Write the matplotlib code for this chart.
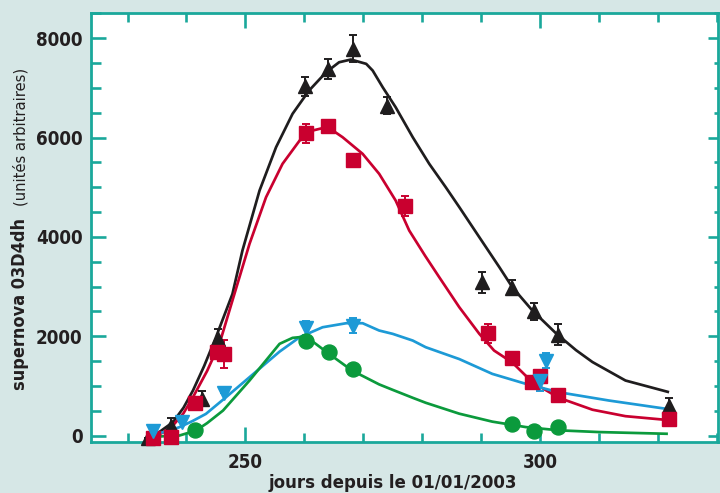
import matplotlib
matplotlib.use('Agg')
import matplotlib.pyplot as plt
from matplotlib.ticker import MultipleLocator, FixedLocator

# ---------------- data ----------------
days_black = [233.4, 237.4, 242.7, 245.3, 260.2, 264.1, 268.2, 274.1, 290.1, 295.2, 298.9, 303.1, 321.9]
flux_black = [-50, 200, 745, 1950, 7030, 7385, 7790, 6645, 3090, 2975, 2505, 2035, 585]
err_black = [0, 150, 150, 200, 200, 200, 270, 170, 210, 150, 170, 220, 170]

days_red = [234.3, 237.4, 241.4, 245.1, 246.3, 260.3, 264.1, 268.2, 277.1, 291.2, 295.3, 298.7, 300.0, 303.1, 321.9]
flux_red = [-50, -20, 650, 1690, 1645, 6090, 6225, 5550, 4620, 2060, 1555, 1075, 1195, 820, 335]
err_red = [0, 0, 0, 0, 280, 190, 0, 0, 200, 190, 0, 0, 0, 0, 0]

days_blue = [234.4, 239.3, 246.4, 260.3, 268.2, 301.0, 300.0]
flux_blue = [100, 270, 850, 2160, 2215, 1510, 1090]
err_blue = [0, 0, 0, 140, 150, 150, 200]

days_green = [241.5, 260.3, 264.2, 268.2, 295.2, 299.0, 303.1]
flux_green = [120, 1900, 1680, 1340, 235, 100, 180]

fit_black_x = [233.5, 235.5, 237.7, 239.5, 241.1, 243.0, 245.0, 247.8, 249.5, 252.4, 255.2, 258.0,
               260.8, 263.7, 265.9, 267.9, 270.5, 271.6, 273.3, 275.5, 278.4, 281.2, 284.0, 286.3,
               289.7, 293.1, 295.3, 298.7, 302.7, 306.1, 308.9, 314.5, 321.9]
fit_black_y = [-60, 80, 268, 560, 906, 1400, 1980, 2850, 3726, 4934, 5806, 6479,
               6948, 7317, 7518, 7573, 7486, 7351, 7015, 6612, 6008, 5472, 5001, 4600,
               3994, 3390, 2987, 2518, 2060, 1720, 1480, 1108, 873]

fit_red_x = [234.0, 236.0, 237.7, 239.5, 241.1, 243.5, 245.6, 247.8, 250.7, 253.5, 256.3, 259.2,
             261.4, 263.4, 265.0, 266.5, 269.9, 272.7, 275.5, 277.8, 280.5, 282.9, 286.3, 289.7,
             292.2, 295.3, 298.7, 303.2, 308.9, 314.5, 321.9]
fit_red_y = [-50, 60, 201, 450, 771, 1300, 1847, 2719, 3861, 4799, 5472, 5941,
             6143, 6200, 6130, 6008, 5673, 5271, 4733, 4129, 3620, 3188, 2584, 2048,
             1712, 1470, 1074, 760, 520, 390, 310]

fit_blue_x = [234.4, 236.5, 238.8, 241.0, 243.3, 246.7, 250.7, 255.8, 259.2, 263.1, 267.1, 269.9,
              272.7, 275.0, 278.4, 280.6, 286.3, 291.9, 297.6, 303.2, 311.7, 321.9]
fit_blue_y = [20, 80, 168, 290, 436, 771, 1175, 1690, 1980, 2181, 2262, 2262,
              2115, 2048, 1913, 1779, 1540, 1242, 1041, 872, 705, 530]

fit_green_x = [234.4, 236.5, 238.8, 241.6, 243.5, 246.2, 250.7, 255.8, 258.0, 259.5, 261.0, 264.2,
               268.1, 272.7, 275.0, 278.4, 280.6, 286.3, 291.9, 297.6, 303.2, 310.0, 321.7]
fit_green_y = [-30, -10, 0, 100, 250, 503, 1108, 1847, 1967, 1985, 1930, 1645,
               1309, 1030, 920, 760, 660, 440, 280, 170, 105, 70, 35]

x_major = [250, 300]
y_major = [0, 2000, 4000, 6000, 8000]

# ---------------- style ----------------
TEAL = '#1aa89b'
BG = '#d6e7e6'
INK = '#231f20'
C_BLACK = '#1f1d1e'
C_RED = '#c9002f'
C_BLUE = '#1d9ad6'
C_GREEN = '#0b9a3c'

plt.rcParams['font.family'] = ['DejaVu Sans']
plt.rcParams['font.stretch'] = 'condensed'

fig = plt.figure(figsize=(7.2, 4.93), dpi=100, facecolor=BG)
W, H = 720, 493
ax = fig.add_axes([91 / W, (H - 441.5) / H, (718 - 91) / W, (441.5 - 13.5) / H])
ax.set_facecolor('white')

ax.set_xlim(223.8, 330.2)
ax.set_ylim(-120, 8500)

lw = 1.95
for fx, fy, c in [(fit_black_x, fit_black_y, C_BLACK), (fit_red_x, fit_red_y, C_RED),
                  (fit_blue_x, fit_blue_y, C_BLUE), (fit_green_x, fit_green_y, C_GREEN)]:
    ax.plot(fx, fy, color=c, lw=lw, zorder=2, solid_joinstyle='round', solid_capstyle='butt')

def series(x, y, err, color, marker, ms):
    ax.errorbar(x, y, yerr=err, fmt='none', ecolor=color, elinewidth=1.4,
                capsize=2.6, capthick=1.4, zorder=3, clip_on=False)
    ax.plot(x, y, linestyle='none', marker=marker, ms=ms, color=color,
            mec=color, zorder=4, clip_on=False)

series(days_black, flux_black, err_black, C_BLACK, '^', 9.8)
series(days_red, flux_red, err_red, C_RED, 's', 10.2)
series(days_blue, flux_blue, err_blue, C_BLUE, 'v', 9.8)
ax.plot(days_green, flux_green, linestyle='none', marker='o', ms=10.8,
        color=C_GREEN, zorder=4, clip_on=False)

# spines
for s in ax.spines.values():
    s.set_color(TEAL)
    s.set_linewidth(2.0)

ax.xaxis.set_major_locator(FixedLocator(x_major))
ax.xaxis.set_minor_locator(MultipleLocator(10))
ax.yaxis.set_major_locator(FixedLocator(y_major))
ax.yaxis.set_minor_locator(MultipleLocator(500))
ax.set_xticklabels([str(v) for v in x_major])
ax.set_yticklabels([str(v) for v in y_major])

ax.tick_params(axis='both', which='both', direction='in', color=TEAL, width=1.9,
               top=True, right=False, labelcolor=INK, labelsize=13.5)
ax.tick_params(axis='x', which='major', length=10.5, pad=8)
ax.tick_params(axis='x', which='minor', length=6.5)
ax.tick_params(axis='y', which='major', length=10.5, pad=6)
ax.tick_params(axis='y', which='minor', length=7)
for lab in ax.get_xticklabels() + ax.get_yticklabels():
    lab.set_fontweight('bold')
    lab.set_fontstretch('condensed')

sec = ax.secondary_yaxis('right')
sec.yaxis.set_major_locator(FixedLocator(y_major))
sec.yaxis.set_minor_locator(MultipleLocator(500))
sec.tick_params(axis='y', which='both', direction='in', color=TEAL, width=1.9, labelright=False)
sec.tick_params(axis='y', which='major', length=7.5)
sec.tick_params(axis='y', which='minor', length=3.2)
sec.spines['right'].set_visible(False)

# axis titles
fig.text(393 / W, (H - 488) / H, 'jours depuis le 01/01/2003', ha='center', va='baseline',
         fontsize=13.3, fontweight='bold', fontstretch='condensed', color=INK)
fig.text(25 / W, (H - 390) / H, 'supernova 03D4dh', rotation=90, rotation_mode='anchor',
         ha='left', va='baseline', fontsize=13, fontweight='bold', fontstretch='condensed', color=INK)
fig.text(25 / W, (H - 206) / H, '(unités arbitraires)', rotation=90, rotation_mode='anchor',
         ha='left', va='baseline', fontsize=11.8, fontweight='normal', fontstretch='condensed', color=INK)

fig.savefig('out.png', dpi=100, facecolor=BG)
